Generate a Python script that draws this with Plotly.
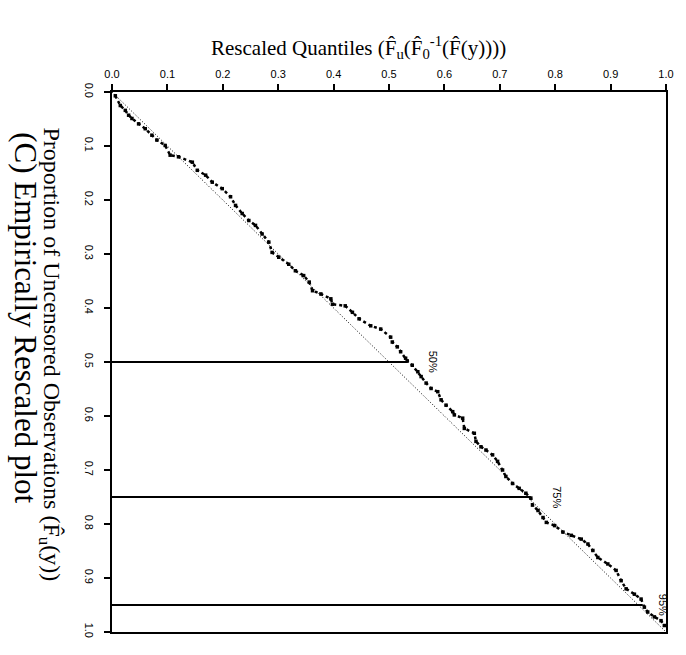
import plotly.graph_objects as go

# Rescaled quantiles (x, top axis) and proportion of uncensored observations (y, left axis)
q_vals = [0.006, 0.015, 0.024, 0.030, 0.036, 0.048, 0.060, 0.072, 0.081, 0.096,
          0.105, 0.120, 0.145, 0.154, 0.169, 0.181, 0.199, 0.214, 0.223, 0.235,
          0.247, 0.259, 0.271, 0.283, 0.289, 0.301, 0.319, 0.331, 0.346, 0.356,
          0.362, 0.377, 0.395, 0.398, 0.421, 0.434, 0.446, 0.467, 0.485, 0.503,
          0.506, 0.515, 0.521, 0.530, 0.533, 0.542, 0.552, 0.558, 0.567, 0.576,
          0.588, 0.594, 0.603, 0.615, 0.618, 0.633, 0.636, 0.654, 0.657, 0.666,
          0.675, 0.687, 0.696, 0.705, 0.711, 0.723, 0.735, 0.747, 0.756, 0.759,
          0.769, 0.778, 0.784, 0.799, 0.814, 0.829, 0.847, 0.859, 0.868, 0.877,
          0.895, 0.910, 0.919, 0.928, 0.943, 0.955, 0.961, 0.967, 0.979, 0.991,
          0.997]
p_vals = [0.007, 0.025, 0.034, 0.043, 0.049, 0.059, 0.068, 0.080, 0.089, 0.099,
          0.117, 0.120, 0.130, 0.145, 0.154, 0.167, 0.179, 0.194, 0.210, 0.225,
          0.238, 0.247, 0.263, 0.278, 0.297, 0.306, 0.319, 0.331, 0.340, 0.352,
          0.368, 0.374, 0.383, 0.393, 0.396, 0.408, 0.420, 0.433, 0.439, 0.454,
          0.463, 0.472, 0.481, 0.493, 0.498, 0.506, 0.518, 0.527, 0.539, 0.549,
          0.555, 0.570, 0.580, 0.592, 0.598, 0.604, 0.623, 0.632, 0.647, 0.657,
          0.663, 0.672, 0.684, 0.700, 0.712, 0.725, 0.734, 0.743, 0.752, 0.765,
          0.775, 0.788, 0.797, 0.803, 0.815, 0.821, 0.828, 0.837, 0.849, 0.862,
          0.874, 0.886, 0.905, 0.920, 0.930, 0.939, 0.954, 0.963, 0.972, 0.979,
          0.988]

pct_levels = [0.50, 0.75, 0.95]
pct_quantiles = [0.533, 0.756, 0.958]
pct_labels = ["50%", "75%", "95%"]

tick_vals = [0.0, 0.1, 0.2, 0.3, 0.4, 0.5, 0.6, 0.7, 0.8, 0.9, 1.0]
tick_text = ["0.0", "0.1", "0.2", "0.3", "0.4", "0.5", "0.6", "0.7", "0.8", "0.9", "1.0"]

title_top = "Rescaled Quantiles (F\u0302<sub>u</sub>(F\u0302<sub>0</sub><sup>-1</sup>(F\u0302(y))))"
title_left = "Proportion of Uncensored Observations (F\u0302<sub>u</sub>(y))"
panel_label = "(C) Empirically Rescaled plot"

fig = go.Figure()

# reference diagonal
fig.add_trace(go.Scatter(x=[0, 1], y=[0, 1], mode="lines",
                         line=dict(color="black", width=1, dash="1px,2px"),
                         showlegend=False, hoverinfo="skip"))

# percentile lines
for lvl, qe in zip(pct_levels, pct_quantiles):
    fig.add_trace(go.Scatter(x=[0, qe], y=[lvl, lvl], mode="lines",
                             line=dict(color="black", width=2),
                             showlegend=False, hoverinfo="skip"))

# empirical curve
fig.add_trace(go.Scatter(x=q_vals, y=p_vals, mode="lines+markers",
                         line=dict(color="black", width=2.5, dash="3px,3px"),
                         marker=dict(color="black", size=3.5, symbol="square"),
                         showlegend=False))

sans = "Liberation Sans"
serif = "Liberation Serif"

annotations = []
for lvl, qe, lab in zip(pct_levels, pct_quantiles, pct_labels):
    annotations.append(dict(x=min(qe + 0.047, 0.995), y=lvl, xref="x", yref="y",
                            text=lab, showarrow=False, textangle=90,
                            font=dict(family=sans, size=11, color="black")))

annotations.append(dict(x=0.445, y=1.082, xref="paper", yref="paper",
                        text=title_top, showarrow=False,
                        font=dict(family=serif, size=21, color="black"),
                        xanchor="center", yanchor="middle"))
annotations.append(dict(x=-0.112, y=0.514, xref="paper", yref="paper",
                        text=title_left, showarrow=False, textangle=90,
                        font=dict(family=serif, size=24, color="black"),
                        xanchor="center", yanchor="middle"))
annotations.append(dict(x=-0.156, y=0.582, xref="paper", yref="paper",
                        text=panel_label, showarrow=False, textangle=90,
                        font=dict(family=serif, size=31, color="black"),
                        xanchor="center", yanchor="middle"))

axis_common = dict(showline=True, linewidth=2, linecolor="black", mirror=True,
                   ticks="outside", ticklen=6, tickwidth=1.5, tickcolor="black",
                   tickvals=tick_vals, ticktext=tick_text, showgrid=False,
                   zeroline=False, tickfont=dict(family=sans, size=11, color="black"))

fig.update_layout(
    width=686, height=655,
    margin=dict(l=112, r=20, t=92, b=23),
    paper_bgcolor="white", plot_bgcolor="white",
    xaxis=dict(side="top", range=[0, 1], ticklabelstandoff=2, **axis_common),
    yaxis=dict(range=[1, 0], tickangle=90, ticklabelstandoff=6, **axis_common),
    annotations=annotations,
    showlegend=False,
)

fig.write_html("out.html")
